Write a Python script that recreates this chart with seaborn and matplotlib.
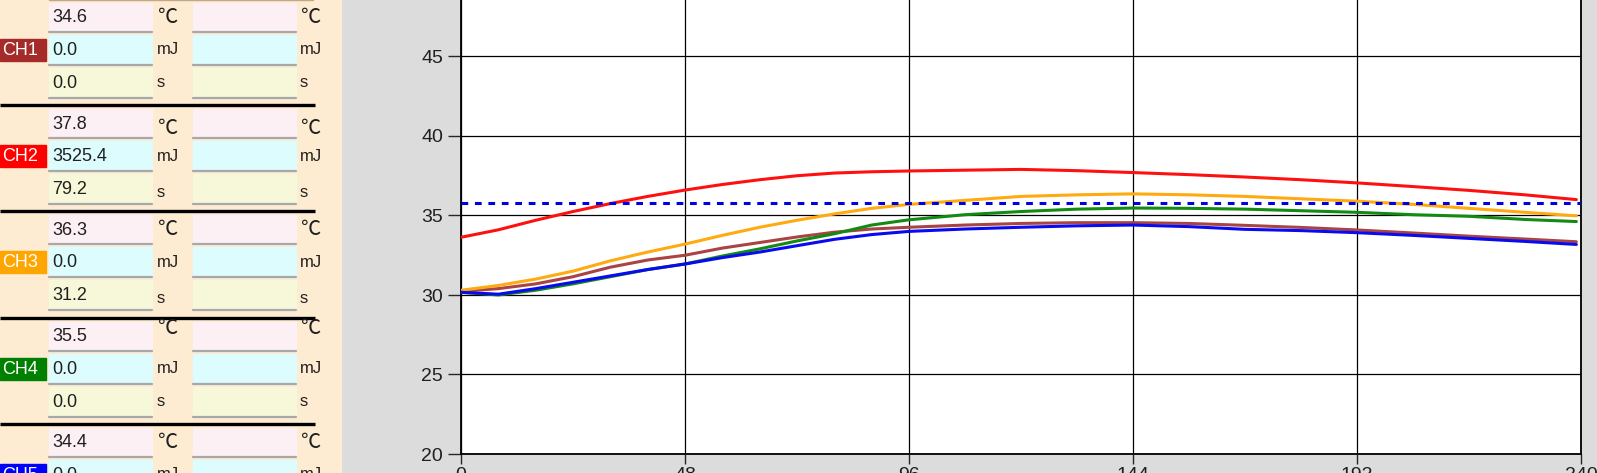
import numpy as np
import pandas as pd
import matplotlib
matplotlib.use('Agg')
import matplotlib.pyplot as plt
import seaborn as sns
from matplotlib.patches import Rectangle

# panel readouts per channel
channels = ['CH1', 'CH2', 'CH3', 'CH4', 'CH5']
ch_colors = ['#a52a2a', '#ff0000', '#ffa500', '#008000', '#0000ff']
line_colors = ['#a94444', '#ff1010', '#ffaa10', '#138a13', '#0a0af0']
temps = [34.6, 37.8, 36.3, 35.5, 34.4]
energy = [0.0, 3525.4, 0.0, 0.0, 0.0]
seconds = [0.0, 79.2, 31.2, 0.0, 0.0]
units = ['℃', 'mJ', 's']

# curves (time, temperature)
time = [0, 8, 16, 24, 32, 40, 48, 56, 64, 72, 80, 88, 96,
        108, 120, 132, 144, 156, 168, 180, 192, 204, 216, 228, 239]
ch1 = [30.23, 30.4, 30.7, 31.15, 31.75, 32.2, 32.5, 32.95, 33.3, 33.65, 33.95, 34.15, 34.26,
       34.4, 34.5, 34.55, 34.55, 34.5, 34.38, 34.25, 34.09, 33.9, 33.7, 33.52, 33.35]
ch2 = [33.63, 34.1, 34.7, 35.25, 35.75, 36.2, 36.6, 36.95, 37.25, 37.5, 37.67, 37.75, 37.8,
       37.85, 37.9, 37.82, 37.7, 37.57, 37.42, 37.25, 37.05, 36.82, 36.58, 36.3, 36.0]
ch3 = [30.3, 30.6, 31.0, 31.5, 32.15, 32.7, 33.2, 33.75, 34.26, 34.7, 35.1, 35.45, 35.7,
       35.95, 36.2, 36.3, 36.36, 36.3, 36.2, 36.05, 35.9, 35.7, 35.45, 35.2, 34.98]
ch4 = [30.17, 30.0, 30.3, 30.7, 31.15, 31.6, 31.95, 32.45, 32.9, 33.4, 33.85, 34.4, 34.73,
       35.05, 35.25, 35.4, 35.47, 35.45, 35.4, 35.3, 35.2, 35.05, 34.95, 34.75, 34.62]
ch5 = [30.17, 30.05, 30.4, 30.8, 31.2, 31.6, 31.95, 32.35, 32.7, 33.1, 33.5, 33.8, 34.0,
       34.15, 34.26, 34.35, 34.4, 34.3, 34.13, 34.05, 33.92, 33.75, 33.56, 33.37, 33.18]
threshold = 35.8

series = [ch1, ch2, ch3, ch4, ch5]
df = pd.concat([pd.DataFrame({'time': time, 'temp': v, 'ch': c})
                for c, v in zip(channels, series)], ignore_index=True)

sns.set_style('white')
plt.rcParams['font.family'] = ['Liberation Sans', 'Noto Sans CJK JP', 'DejaVu Sans']

W, H = 1597, 473
fig = plt.figure(figsize=(W / 100, H / 100), dpi=100, facecolor='#dcdcdc')

# ---- left readout panel (pixel coords) ----
axp = fig.add_axes([0, 0, 342 / W, 1])
axp.set_xlim(0, 342)
axp.set_ylim(H, 0)
axp.axis('off')
axp.add_patch(Rectangle((0, 0), 342, H, color='#fdebd2', zorder=0))
axp.plot([49, 313], [0.5, 0.5], color='#c0a888', lw=1)

row_spans = [(4, 33), (36, 66), (69, 99)]
row_fill = ['#fdf0f4', '#dcfcfe', '#f7f8da']
unit_dy = [[0, 0, 0], [5, 0, 3], [0, 0, 3], [-8, 0, 0], [0, 0, 0]]

for k in range(5):
    s = -1.3 + 106.3 * k
    if k > 0:
        axp.plot([0, 315], [s, s], color='black', lw=2.4, solid_capstyle='butt')
    vals = [f'{temps[k]:.1f}', f'{energy[k]:.1f}', f'{seconds[k]:.1f}']
    for r, (t, b) in enumerate(row_spans):
        y0, y1 = s + t, s + b
        for bx in (49, 193):
            axp.add_patch(Rectangle((bx, y0), 103, y1 - y0, color=row_fill[r], zorder=1))
            axp.plot([bx, bx + 103], [y1, y1], color='#a8a8a8', lw=1.6, zorder=2)
        yc = (y0 + y1) / 2
        axp.text(52, yc + 0.5, vals[r], fontsize=13, va='center', ha='left', color='#202020')
        fam = ['Noto Sans CJK JP', 'DejaVu Sans'] if r == 0 else ['Liberation Sans']
        dy = unit_dy[k][r]
        axp.text(157, yc + dy, units[r], fontsize=14.5 if r == 0 else 12,
                 va='center', ha='left', color='#202020', family=fam)
        axp.text(300, yc + dy, units[r], fontsize=14.5 if r == 0 else 12,
                 va='center', ha='left', color='#202020', family=fam)
    axp.add_patch(Rectangle((0, s + 40), 46, 22, color=ch_colors[k], zorder=1))
    axp.text(2, s + 51.5, channels[k], fontsize=13, color='white', va='center', ha='left')

# ---- chart ----
ax = fig.add_axes([461 / W, (H - 454) / H, (1581 - 461) / W, 477 / H])
ax.set_facecolor('white')
sns.lineplot(data=df, x='time', y='temp', hue='ch', palette=line_colors,
             linewidth=2.2, legend=False, ax=ax, zorder=3)
ax.axhline(threshold, color='#0000e0', lw=2.2, linestyle=(0, (2.2, 2.2)), zorder=4)

ax.set_xlim(0, 240)
ax.set_ylim(20, 50)
ax.set_xticks(np.arange(0, 241, 48))
ax.set_yticks(np.arange(20, 51, 5))
ax.grid(True, color='black', lw=0.9)
ax.set_axisbelow(True)
ax.set_xlabel('')
ax.set_ylabel('')
for side in ['left', 'bottom', 'right', 'top']:
    ax.spines[side].set_color('black')
    ax.spines[side].set_linewidth(1.3)
ax.tick_params(axis='y', direction='out', length=9.5, width=1, pad=3.5,
               labelsize=14, labelcolor='#202020', left=True)
ax.tick_params(axis='x', direction='out', length=7, width=1, pad=2,
               labelsize=14, labelcolor='#202020', bottom=True)

fig.savefig('out.png', dpi=100, facecolor=fig.get_facecolor())
